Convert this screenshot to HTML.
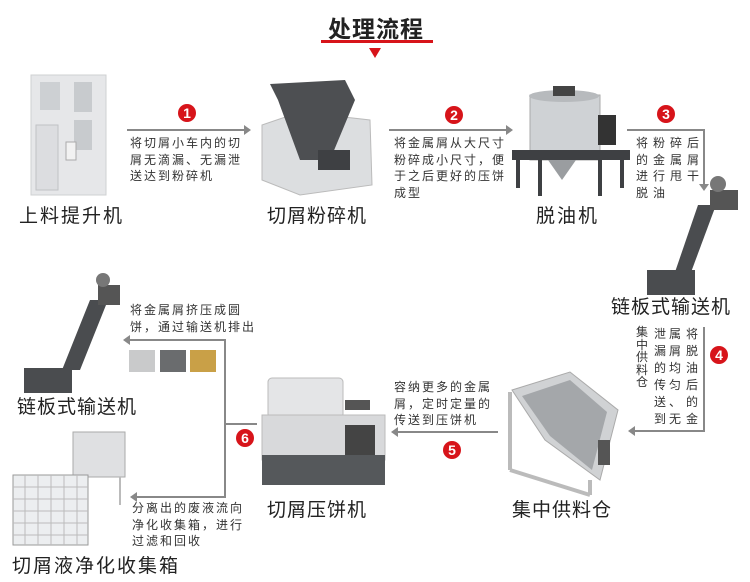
<!DOCTYPE html>
<html><head><meta charset="utf-8"><style>
body{margin:0;width:750px;height:582px;background:#fff;position:relative;overflow:hidden;font-family:"Liberation Sans","Noto Sans CJK SC",sans-serif;color:#333}
.a{position:absolute}
.lab{position:absolute;font-size:19px;color:#222;white-space:nowrap;line-height:22px}
.t{position:absolute;font-size:12px;line-height:16.5px;color:#333;white-space:nowrap;letter-spacing:2px}
.b{position:absolute;width:18px;height:18px;border-radius:50%;background:#d7141a;color:#fff;font-weight:bold;font-size:14px;line-height:18px;text-align:center;font-family:"Liberation Sans",sans-serif}
.v{position:absolute;font-size:12px;line-height:17px;width:14px;text-align:center;color:#333}
</style></head><body>
<div class="a" style="left:318px;top:10px;width:116px;text-align:center;font-size:23px;font-weight:bold;color:#222;letter-spacing:1px">处理流程</div>
<div class="a" style="left:321px;top:40px;width:112px;height:3px;background:#d7141a"></div>
<div class="a" style="left:369px;top:48px;width:0;height:0;border-left:6px solid transparent;border-right:6px solid transparent;border-top:10px solid #d7141a"></div>

<svg class="a" style="left:0;top:0" width="750" height="582">
<g stroke="#888" stroke-width="2" fill="none">
<path d="M127 130H246"/><path d="M389 130H508"/><path d="M627 130H704V186"/>
<path d="M704 327V431H634"/><path d="M498 432H396"/>
<path d="M257 424H225V340H129"/><path d="M225 424V497H136"/>
</g>
<g fill="#888">
<path d="M251 130l-7-5v10z"/><path d="M513 130l-7-5v10z"/><path d="M704 191l-5-7h10z"/>
<path d="M628 431l7-5v10z"/><path d="M391 432l7-5v10z"/><path d="M123 340l7-5v10z"/><path d="M130 497l7-5v10z"/>
</g>
<rect x="31" y="75" width="75" height="120" fill="#e6e7e9" stroke="#cfd0d2"/>
<rect x="40" y="82" width="20" height="28" fill="#cdd0d3"/><rect x="74" y="82" width="18" height="30" fill="#c8cbce"/>
<rect x="74" y="120" width="18" height="30" fill="#c8cbce"/><rect x="36" y="125" width="22" height="65" fill="#dcdde0" stroke="#c0c2c5"/>
<rect x="66" y="142" width="10" height="18" fill="#f2f2f2" stroke="#aaa"/>
<path d="M262 125L300 112L370 120L372 185L300 195L262 180Z" fill="#dcdee0" stroke="#bbb"/>
<path d="M270 84L345 80L355 100L330 160H300L278 100Z" fill="#4d4f52"/>
<rect x="318" y="150" width="32" height="20" fill="#3e4043"/>
<rect x="530" y="95" width="70" height="65" fill="#cfd2d5" stroke="#aaa"/>
<ellipse cx="564" cy="96" rx="35" ry="6" fill="#b7babd"/><rect x="553" y="86" width="22" height="10" fill="#444"/>
<rect x="598" y="115" width="18" height="30" fill="#333"/>
<path d="M512 150H630V160H512Z" fill="#3e4043"/>
<path d="M518 158v30M622 158v30M540 158v38M600 158v38" stroke="#3e4043" stroke-width="4"/>
<path d="M548 160L562 180L576 160Z" fill="#9a9da0"/>
<path d="M698 205L716 205L690 275L674 275Z" fill="#4a4c4f"/><rect x="647" y="270" width="48" height="25" fill="#4a4c4f"/>
<rect x="710" y="190" width="28" height="20" fill="#555"/><circle cx="718" cy="184" r="8" fill="#777"/>
<path d="M512 390L570 372L618 410L600 480L545 440Z" fill="#d0d2d4" stroke="#aaa"/>
<path d="M522 396L570 380L607 412L592 470L550 436Z" fill="#a4a7aa"/>
<path d="M510 392V470M510 470L590 495M590 480V495" stroke="#bbb" stroke-width="4" fill="none"/>
<rect x="598" y="440" width="12" height="25" fill="#555"/>
<rect x="268" y="378" width="75" height="40" rx="4" fill="#e4e5e7" stroke="#bbb"/>
<rect x="262" y="415" width="123" height="45" fill="#d8d9db" stroke="#bbb"/>
<rect x="262" y="455" width="123" height="30" fill="#55585b"/>
<rect x="345" y="400" width="25" height="10" fill="#555"/><rect x="345" y="425" width="30" height="30" fill="#444"/>
<path d="M90 300L108 300L80 370L62 370Z" fill="#4a4c4f"/><rect x="24" y="368" width="48" height="25" fill="#4a4c4f"/>
<rect x="98" y="285" width="22" height="20" fill="#555"/><circle cx="103" cy="280" r="7" fill="#777"/>
<rect x="129" y="350" width="26" height="22" fill="#c9cacb"/><rect x="160" y="350" width="26" height="22" fill="#6a6c6e"/><rect x="190" y="350" width="26" height="22" fill="#c9a047"/>
<rect x="73" y="432" width="52" height="45" fill="#dfe0e2" stroke="#aaa"/>
<path d="M78 477V505M120 477V505" stroke="#bbb" stroke-width="2"/>
<rect x="13" y="475" width="75" height="70" fill="#eceef0" stroke="#999"/>
<path d="M13 487H88M13 499H88M13 511H88M13 523H88M13 535H88M25 475V545M38 475V545M51 475V545M64 475V545M77 475V545" stroke="#bbb"/>
</svg>

<div class="b" style="left:178px;top:104px">1</div>
<div class="b" style="left:445px;top:106px">2</div>
<div class="b" style="left:657px;top:105px">3</div>
<div class="b" style="left:710px;top:346px">4</div>
<div class="b" style="left:443px;top:441px">5</div>
<div class="b" style="left:236px;top:429px">6</div>

<div class="t" style="left:130px;top:135px">将切屑小车内的切<br>屑无滴漏、无漏泄<br>送达到粉碎机</div>
<div class="t" style="left:394px;top:135px">将金属屑从大尺寸<br>粉碎成小尺寸，便<br>于之后更好的压饼<br>成型</div>
<div class="t" style="left:636px;top:135px;letter-spacing:5px">将粉碎后<br>的金属屑<br>进行甩干<br>脱油</div>
<div class="v" style="left:685px;top:326px">将<br>脱<br>油<br>后<br>的<br>金</div>
<div class="v" style="left:668px;top:326px">属<br>屑<br>均<br>匀<br>、<br>无</div>
<div class="v" style="left:653px;top:326px">泄<br>漏<br>的<br>传<br>送<br>到</div>
<div class="v" style="left:635px;top:326px;line-height:12.5px">集<br>中<br>供<br>料<br>仓</div>
<div class="t" style="left:394px;top:379px">容纳更多的金属<br>屑，定时定量的<br>传送到压饼机</div>
<div class="t" style="left:130px;top:302px">将金属屑挤压成圆<br>饼，通过输送机排出</div>
<div class="t" style="left:132px;top:500px">分离出的废液流向<br>净化收集箱，进行<br>过滤和回收</div>

<div class="lab" style="left:19px;top:206px;letter-spacing:2px">上料提升机</div>
<div class="lab" style="left:267px;top:206px;letter-spacing:1px">切屑粉碎机</div>
<div class="lab" style="left:536px;top:206px;letter-spacing:2px">脱油机</div>
<div class="lab" style="left:611px;top:297px;letter-spacing:1px">链板式输送机</div>
<div class="lab" style="left:17px;top:397px;letter-spacing:1px">链板式输送机</div>
<div class="lab" style="left:512px;top:500px;letter-spacing:1px">集中供料仓</div>
<div class="lab" style="left:267px;top:500px;letter-spacing:1px">切屑压饼机</div>
<div class="lab" style="left:12px;top:556px;letter-spacing:2px">切屑液净化收集箱</div>
</body></html>
